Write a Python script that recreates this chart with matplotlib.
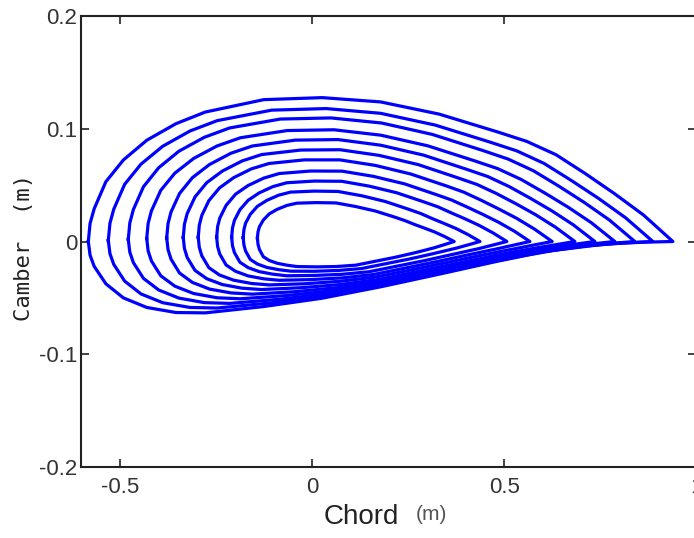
import matplotlib
matplotlib.use("Agg")
import matplotlib.pyplot as plt
import numpy as np

# ---- data -----------------------------------------------------------------
# 11 nested profiles, inner (0) to outer (10)
le_x = [-0.142, -0.179, -0.209, -0.248, -0.296, -0.335, -0.378, -0.430, -0.478, -0.530, -0.582]
te_x = [0.370, 0.437, 0.507, 0.567, 0.625, 0.684, 0.736, 0.788, 0.840, 0.887, 0.939]

# fraction of each profile's chord at which the surfaces were read
stations = [0.0, 0.003, 0.01, 0.03, 0.06, 0.10, 0.15, 0.20, 0.30, 0.40, 0.50,
            0.60, 0.70, 0.75, 0.80, 0.85, 0.90, 0.95, 1.0]

upper_y = [
    [0.0030, 0.0085, 0.0130, 0.0190, 0.0245, 0.0285, 0.0320, 0.0340, 0.0345, 0.0342, 0.0310, 0.0270, 0.0215, 0.0185, 0.0150, 0.0118, 0.0085, 0.0045, 0.0],
    [0.0035, 0.0105, 0.0162, 0.0241, 0.0312, 0.0365, 0.0411, 0.0438, 0.0447, 0.0444, 0.0406, 0.0355, 0.0285, 0.0248, 0.0202, 0.0159, 0.0114, 0.0061, 0.0],
    [0.0037, 0.0120, 0.0187, 0.0282, 0.0366, 0.0431, 0.0487, 0.0521, 0.0536, 0.0534, 0.0491, 0.0432, 0.0350, 0.0307, 0.0252, 0.0199, 0.0142, 0.0076, 0.0],
    [0.0038, 0.0132, 0.0208, 0.0320, 0.0419, 0.0496, 0.0562, 0.0603, 0.0625, 0.0624, 0.0578, 0.0511, 0.0417, 0.0368, 0.0305, 0.0240, 0.0171, 0.0092, 0.0],
    [0.0038, 0.0144, 0.0231, 0.0362, 0.0475, 0.0566, 0.0644, 0.0692, 0.0724, 0.0724, 0.0675, 0.0599, 0.0494, 0.0438, 0.0365, 0.0287, 0.0205, 0.0110, 0.0],
    [0.0036, 0.0152, 0.0247, 0.0395, 0.0522, 0.0625, 0.0714, 0.0771, 0.0811, 0.0814, 0.0764, 0.0682, 0.0566, 0.0506, 0.0425, 0.0334, 0.0237, 0.0128, 0.0],
    [0.0032, 0.0158, 0.0261, 0.0426, 0.0566, 0.0683, 0.0783, 0.0847, 0.0899, 0.0904, 0.0854, 0.0766, 0.0641, 0.0576, 0.0487, 0.0382, 0.0271, 0.0147, 0.0],
    [0.0026, 0.0161, 0.0271, 0.0454, 0.0606, 0.0736, 0.0847, 0.0920, 0.0984, 0.0991, 0.0943, 0.0849, 0.0716, 0.0646, 0.0550, 0.0431, 0.0305, 0.0166, 0.0],
    [0.0019, 0.0164, 0.0283, 0.0486, 0.0654, 0.0801, 0.0924, 0.1007, 0.1086, 0.1096, 0.1051, 0.0950, 0.0807, 0.0731, 0.0627, 0.0491, 0.0347, 0.0190, 0.0],
    [0.0010, 0.0162, 0.0286, 0.0507, 0.0686, 0.0845, 0.0980, 0.1072, 0.1165, 0.1179, 0.1137, 0.1033, 0.0883, 0.0804, 0.0693, 0.0542, 0.0383, 0.0210, 0.0],
    [0.0000, 0.0160, 0.0290, 0.0530, 0.0723, 0.0898, 0.1045, 0.1148, 0.1258, 0.1276, 0.1238, 0.1130, 0.0972, 0.0888, 0.0770, 0.0603, 0.0425, 0.0234, 0.0],
]

lower_y = [
    [0.0030, -0.0025, -0.0070, -0.0135, -0.0168, -0.0193, -0.0210, -0.0222, -0.0225, -0.0222, -0.0210, -0.0175, -0.0140, -0.0120, -0.0100, -0.0078, -0.0055, -0.0028, 0.0],
    [0.0035, -0.0030, -0.0084, -0.0159, -0.0200, -0.0230, -0.0250, -0.0263, -0.0264, -0.0257, -0.0240, -0.0198, -0.0156, -0.0133, -0.0109, -0.0084, -0.0059, -0.0030, 0.0],
    [0.0037, -0.0037, -0.0098, -0.0184, -0.0232, -0.0267, -0.0290, -0.0304, -0.0301, -0.0291, -0.0268, -0.0219, -0.0170, -0.0143, -0.0116, -0.0089, -0.0062, -0.0031, 0.0],
    [0.0038, -0.0045, -0.0112, -0.0208, -0.0264, -0.0305, -0.0331, -0.0344, -0.0338, -0.0323, -0.0293, -0.0237, -0.0180, -0.0150, -0.0120, -0.0091, -0.0062, -0.0031, 0.0],
    [0.0038, -0.0052, -0.0126, -0.0232, -0.0297, -0.0343, -0.0372, -0.0385, -0.0375, -0.0353, -0.0316, -0.0253, -0.0188, -0.0155, -0.0122, -0.0091, -0.0061, -0.0030, 0.0],
    [0.0036, -0.0061, -0.0141, -0.0256, -0.0330, -0.0382, -0.0414, -0.0426, -0.0410, -0.0382, -0.0336, -0.0265, -0.0193, -0.0157, -0.0121, -0.0089, -0.0058, -0.0029, 0.0],
    [0.0032, -0.0071, -0.0156, -0.0280, -0.0363, -0.0422, -0.0456, -0.0467, -0.0445, -0.0409, -0.0354, -0.0276, -0.0195, -0.0156, -0.0117, -0.0085, -0.0054, -0.0026, 0.0],
    [0.0026, -0.0083, -0.0172, -0.0304, -0.0396, -0.0461, -0.0499, -0.0508, -0.0479, -0.0435, -0.0370, -0.0283, -0.0194, -0.0152, -0.0111, -0.0079, -0.0048, -0.0022, 0.0],
    [0.0019, -0.0094, -0.0187, -0.0327, -0.0430, -0.0502, -0.0542, -0.0549, -0.0512, -0.0459, -0.0383, -0.0288, -0.0190, -0.0145, -0.0101, -0.0070, -0.0039, -0.0018, 0.0],
    [0.0010, -0.0107, -0.0203, -0.0351, -0.0465, -0.0543, -0.0585, -0.0590, -0.0544, -0.0482, -0.0393, -0.0290, -0.0184, -0.0137, -0.0090, -0.0060, -0.0030, -0.0012, 0.0],
    [0.0000, -0.0121, -0.0220, -0.0375, -0.0500, -0.0585, -0.0630, -0.0633, -0.0577, -0.0503, -0.0402, -0.0290, -0.0175, -0.0122, -0.0075, -0.0040, -0.0018, -0.0006, 0.0],
]

x_ticks = [-0.5, 0, 0.5, 1]
x_tick_labels = ["-0.5", "0", "0.5", "1"]
y_ticks = [-0.2, -0.1, 0, 0.1, 0.2]
y_tick_labels = ["-0.2", "-0.1", "0", "0.1", "0.2"]

# ---- figure ---------------------------------------------------------------
W, H = 694, 538
fig = plt.figure(figsize=(W / 100, H / 100), dpi=100, facecolor="white")
ax = fig.add_axes([81.4 / W, 1 - 467 / H, (696.3 - 81.4) / W, (467 - 16) / H])

s = np.array(stations)
for le, te, up, lo in zip(le_x, te_x, upper_y, lower_y):
    xs = le + s * (te - le)
    x_loop = np.concatenate([xs, xs[::-1]])
    y_loop = np.concatenate([np.array(up), np.array(lo)[::-1]])
    ax.plot(x_loop, y_loop, color="#0000ff", lw=2.3, solid_joinstyle="round")

ax.set_xlim(-0.6, 1.0)
ax.set_ylim(-0.2, 0.2)

tick_font = ["Liberation Sans", "DejaVu Sans"]
ax.set_xticks(x_ticks)
ax.set_xticklabels(x_tick_labels, family=tick_font, fontsize=16, color="#333333")
ax.set_yticks(y_ticks)
ax.set_yticklabels(y_tick_labels, family=tick_font, fontsize=16, color="#333333")
ax.tick_params(direction="in", length=6, width=1.2, top=True, right=True,
               colors="#222222", labelcolor="#333333")
ax.tick_params(axis="x", pad=7)
ax.tick_params(axis="y", pad=3)
for sp in ax.spines.values():
    sp.set_linewidth(1.5)
    sp.set_color("#222222")

# axis labels
fig.text(361 / W, 1 - 517 / H, "Chord", ha="center", va="center",
         family=tick_font, fontsize=20, color="#222222")
fig.text(431 / W, 1 - 514 / H, "(m)", ha="center", va="center",
         family=tick_font, fontsize=15, color="#555555")
fig.text(24 / W, 1 - 247 / H, "Camber  (m)", ha="center", va="center",
         rotation=90, family=["DejaVu Sans Mono"], fontsize=16, color="#222222")

fig.savefig("out.png", dpi=100, facecolor="white")
